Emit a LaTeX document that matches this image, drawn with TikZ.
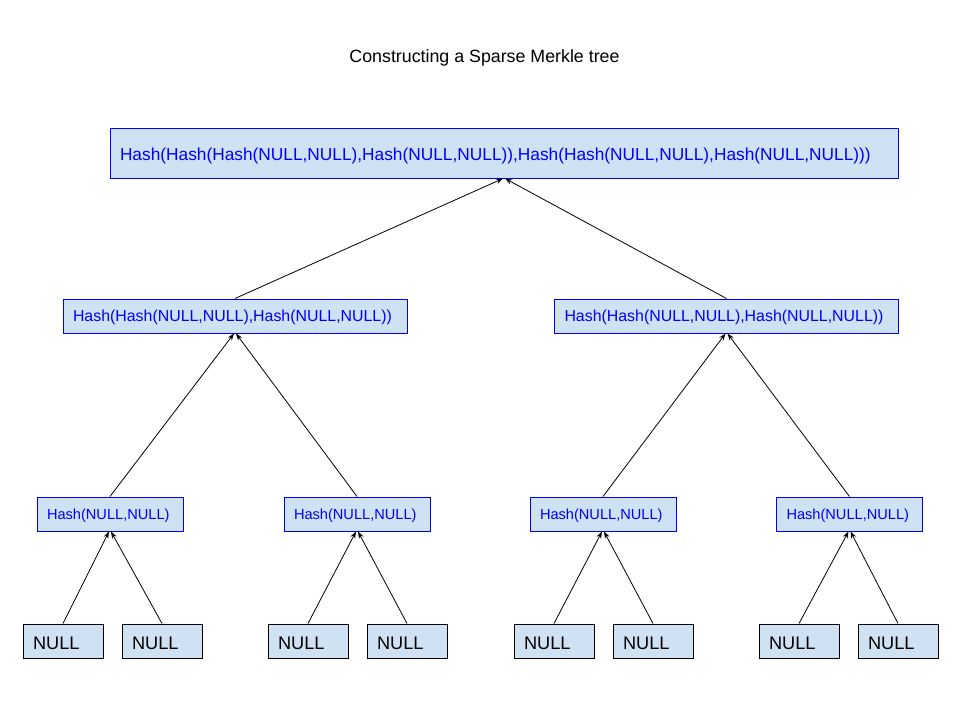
\documentclass[tikz,border=0pt]{standalone}
\usepackage{fontspec}
\setmainfont{Liberation Sans}
\usetikzlibrary{arrows.meta}
\definecolor{boxfill}{HTML}{CFE2F3}
\definecolor{hashblue}{HTML}{0000FF}
\tikzset{
  base/.style={draw, fill=boxfill, line width=1pt, inner xsep=10pt, inner ysep=0pt, align=left, anchor=center},
  hashbox/.style={base, draw=hashblue, text=hashblue},
  leafbox/.style={base, draw=black, text=black, text width=60pt, minimum height=34pt, font=\fontsize{18.2}{20}\selectfont, text height=16pt, text depth=0pt},
  lvltwo/.style={hashbox, text width=126pt, minimum height=34pt, font=\fontsize{14.6}{18}\selectfont, text height=10.45pt, text depth=0pt},
  lvlone/.style={hashbox, text width=324pt, minimum height=34pt, font=\fontsize{15.9}{18}\selectfont, text height=11.4pt, text depth=0pt},
  edge/.style={line width=0.8pt, -{Stealth[length=7pt,width=5pt]}}
}
\begin{document}
\begin{tikzpicture}[x=1pt,y=-1pt]
\fill[white] (0,0) rectangle (960,720);
\useasboundingbox (0,0) rectangle (960,720);
\node[font=\fontsize{17.8}{20}\selectfont, text height=12.7pt, text depth=0pt, inner sep=0pt] (title) at (484.5,56) {Constructing a Sparse Merkle tree};
\node[hashbox, text width=768pt, minimum height=50pt, font=\fontsize{17.3}{20}\selectfont, text height=14.4pt, text depth=0pt] (root) at (504,153) {Hash(Hash(Hash(NULL,NULL),Hash(NULL,NULL)),Hash(Hash(NULL,NULL),Hash(NULL,NULL)))};
\node[lvlone] (a) at (235,316) {Hash(Hash(NULL,NULL),Hash(NULL,NULL))};
\node[lvlone] (b) at (726.5,316) {Hash(Hash(NULL,NULL),Hash(NULL,NULL))};
\node[lvltwo] (c1) at (110,514) {Hash(NULL,NULL)};
\node[lvltwo] (c2) at (357,514) {Hash(NULL,NULL)};
\node[lvltwo] (c3) at (603,514) {Hash(NULL,NULL)};
\node[lvltwo] (c4) at (849.5,514) {Hash(NULL,NULL)};
\node[leafbox] (l1) at (63,641) {NULL};
\node[leafbox] (l2) at (162,641) {NULL};
\node[leafbox] (l3) at (308,641) {NULL};
\node[leafbox] (l4) at (407,641) {NULL};
\node[leafbox] (l5) at (554,641) {NULL};
\node[leafbox] (l6) at (653,641) {NULL};
\node[leafbox] (l7) at (799,641) {NULL};
\node[leafbox] (l8) at (898,641) {NULL};
\draw[edge] (a.north) -- ([xshift=-1pt]root.south);
\draw[edge] (b.north) -- ([xshift=1pt]root.south);
\draw[edge] (c1.north) -- ([xshift=-1pt]a.south);
\draw[edge] (c2.north) -- ([xshift=1pt]a.south);
\draw[edge] (c3.north) -- ([xshift=-1pt]b.south);
\draw[edge] (c4.north) -- ([xshift=1pt]b.south);
\draw[edge] (l1.north) -- ([xshift=-1pt]c1.south);
\draw[edge] (l2.north) -- ([xshift=1pt]c1.south);
\draw[edge] (l3.north) -- ([xshift=-1pt]c2.south);
\draw[edge] (l4.north) -- ([xshift=1pt]c2.south);
\draw[edge] (l5.north) -- ([xshift=-1pt]c3.south);
\draw[edge] (l6.north) -- ([xshift=1pt]c3.south);
\draw[edge] (l7.north) -- ([xshift=-1pt]c4.south);
\draw[edge] (l8.north) -- ([xshift=1pt]c4.south);
\end{tikzpicture}
\end{document}
